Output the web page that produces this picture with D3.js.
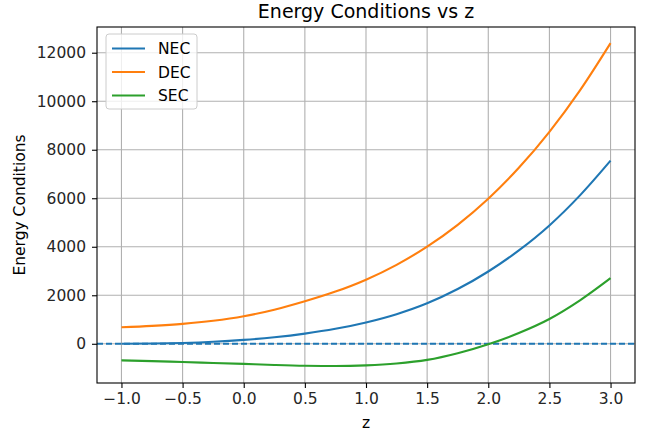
<!DOCTYPE html>
<html>
<head>
<meta charset="utf-8">
<script src="https://cdn.jsdelivr.net/npm/d3@7"></script>
<style>
  body { margin: 0; background: #fff; }
  svg { font-family: "DejaVu Sans", sans-serif; }
</style>
</head>
<body>
<svg id="chart" width="657" height="436"></svg>
<script>
// Data
const zValues = [-1, -0.75, -0.5, -0.25, 0, 0.25, 0.5, 0.75, 1, 1.25, 1.5, 1.75, 2, 2.25, 2.5, 2.75, 3];
const necValues = [0, 10, 35, 83, 160, 270, 420, 617, 880, 1221, 1670, 2257, 2980, 3849, 4880, 6119, 7550];
const decValues = [682, 740, 822, 948, 1134, 1406, 1751, 2151, 2643, 3256, 4005, 4905, 5980, 7254, 8738, 10448, 12396];
const secValues = [-682, -715, -752, -790, -830, -875, -908, -918, -890, -814, -665, -391, -20, 444, 1022, 1790, 2704];
const xTicks = [-1.0, -0.5, 0.0, 0.5, 1.0, 1.5, 2.0, 2.5, 3.0];
const yTicks = [0, 2000, 4000, 6000, 8000, 10000, 12000];

const series = [
  {name: "NEC", values: necValues, color: "#1f77b4"},
  {name: "DEC", values: decValues, color: "#ff7f0e"},
  {name: "SEC", values: secValues, color: "#2ca02c"}
];

// Set dimensions and margins
const margin = {top: 27, right: 22, bottom: 53, left: 97},
    width = 657 - margin.left - margin.right,
    height = 436 - margin.top - margin.bottom;

const svg = d3.select("#chart")
    .append("g")
    .attr("transform", `translate(${margin.left}, ${margin.top})`);

const x = d3.scaleLinear().domain([-1.2, 3.2]).range([0, width]);
const y = d3.scaleLinear().domain([-1617, 13060]).range([height, 0]);

// Grid
svg.append("g")
    .selectAll("line")
    .data(xTicks)
    .enter()
    .append("line")
    .attr("x1", d => x(d)).attr("x2", d => x(d))
    .attr("y1", 0).attr("y2", height)
    .attr("stroke", "#b0b0b0")
    .attr("stroke-width", 1.1);
svg.append("g")
    .selectAll("line")
    .data(yTicks)
    .enter()
    .append("line")
    .attr("x1", 0).attr("x2", width)
    .attr("y1", d => y(d)).attr("y2", d => y(d))
    .attr("stroke", "#b0b0b0")
    .attr("stroke-width", 1.1);

// Dashed zero line
svg.append("line")
    .attr("x1", 0).attr("x2", width)
    .attr("y1", y(0)).attr("y2", y(0))
    .attr("stroke", "#1f77b4")
    .attr("stroke-width", 2.1)
    .attr("stroke-dasharray", "6,3");

// Lines
const line = d3.line()
    .x((d, i) => x(zValues[i]))
    .y(d => y(d))
    .curve(d3.curveMonotoneX);

svg.selectAll(".series")
    .data(series)
    .enter()
    .append("path")
    .attr("d", d => line(d.values))
    .attr("fill", "none")
    .attr("stroke", d => d.color)
    .attr("stroke-width", 2.1);

// Axes
const xAxis = svg.append("g")
    .attr("transform", `translate(0, ${height})`)
    .call(d3.axisBottom(x).tickValues(xTicks).tickFormat(d3.format(".1f")).tickSize(5).tickPadding(5));
const yAxis = svg.append("g")
    .call(d3.axisLeft(y).tickValues(yTicks).tickFormat(d3.format("d")).tickSize(5).tickPadding(6));
[xAxis, yAxis].forEach(a => {
    a.select(".domain").remove();
    a.selectAll("line").attr("stroke", "#000").attr("stroke-width", 1.1);
    a.selectAll("text").attr("fill", "#262626").style("font-size", "15.5px").style("font-family", "DejaVu Sans");
});

// Frame
svg.append("rect")
    .attr("width", width).attr("height", height)
    .attr("fill", "none")
    .attr("stroke", "#000")
    .attr("stroke-width", 1.1);

// Title and labels
svg.append("text")
    .attr("x", width / 2).attr("y", -9)
    .attr("text-anchor", "middle")
    .style("font-size", "19px")
    .attr("fill", "#000")
    .text("Energy Conditions vs z");
svg.append("text")
    .attr("x", width / 2).attr("y", height + 45)
    .attr("text-anchor", "middle")
    .style("font-size", "15.5px")
    .text("z");
svg.append("text")
    .attr("transform", `translate(${-72}, ${height / 2}) rotate(-90)`)
    .attr("text-anchor", "middle")
    .style("font-size", "15.5px")
    .text("Energy Conditions");

// Legend
const legend = svg.append("g").attr("transform", "translate(9, 7)");
legend.append("rect")
    .attr("width", 91).attr("height", 75)
    .attr("rx", 3)
    .attr("fill", "#fff").attr("fill-opacity", 0.8)
    .attr("stroke", "#cccccc");
series.forEach((s, i) => {
    const yy = 14.5 + i * 23.5;
    legend.append("line")
        .attr("x1", 6).attr("x2", 39)
        .attr("y1", yy).attr("y2", yy)
        .attr("stroke", s.color).attr("stroke-width", 2.1);
    legend.append("text")
        .attr("x", 52).attr("y", yy).attr("dy", "0.36em")
        .style("font-size", "15.5px")
        .text(s.name);
});
</script>
</body>
</html>
